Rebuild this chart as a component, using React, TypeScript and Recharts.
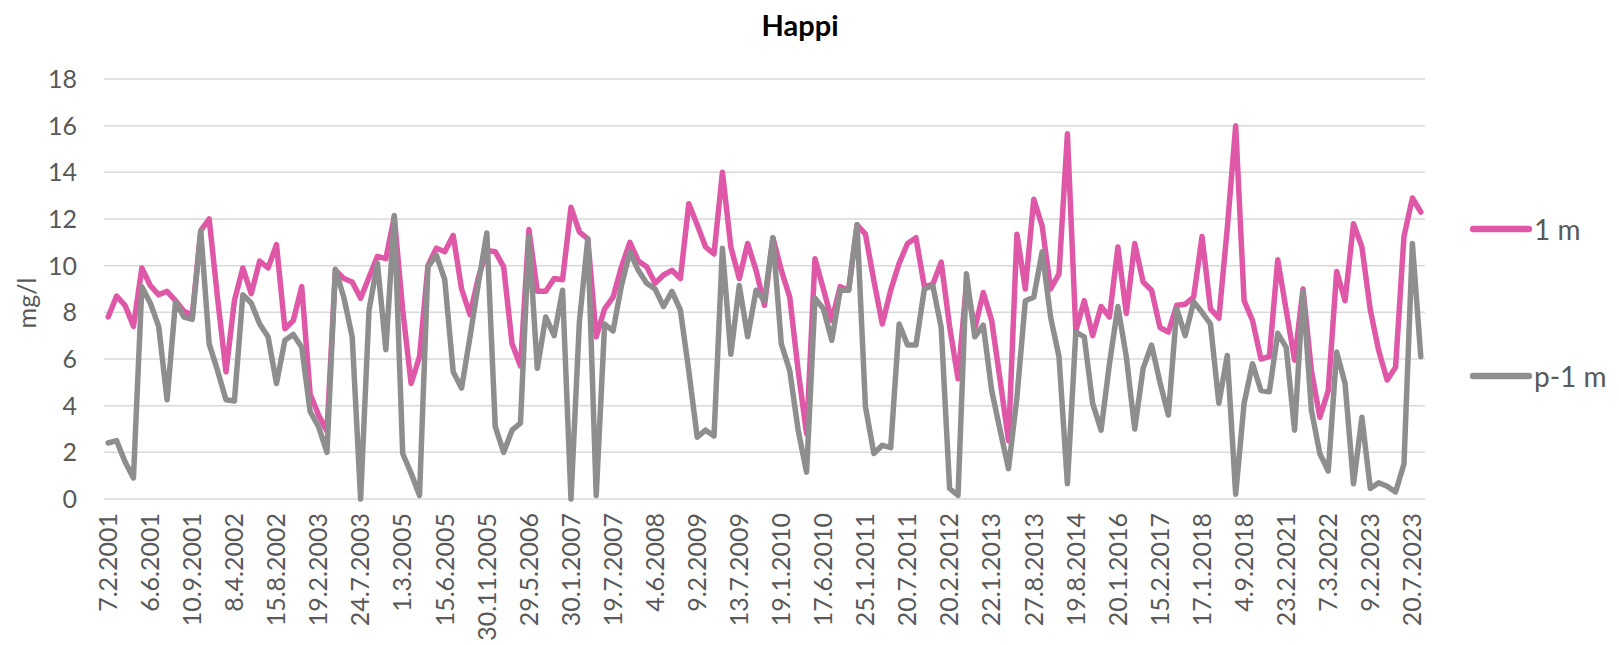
import React from 'react';
import { LineChart, Line, XAxis, YAxis, CartesianGrid, Legend } from 'recharts';

const tickLabels = [
  '7.2.2001', '6.6.2001', '10.9.2001', '8.4.2002', '15.8.2002', '19.2.2003', '24.7.2003', '1.3.2005',
  '15.6.2005', '30.11.2005', '29.5.2006', '30.1.2007', '19.7.2007', '4.6.2008', '9.2.2009', '13.7.2009',
  '19.1.2010', '17.6.2010', '25.1.2011', '20.7.2011', '20.2.2012', '22.1.2013', '27.8.2013', '19.8.2014',
  '20.1.2016', '15.2.2017', '17.1.2018', '4.9.2018', '23.2.2021', '7.3.2022', '9.2.2023', '20.7.2023',
];

const m1 = [
  7.8, 8.7, 8.3, 7.4, 9.9, 9.15, 8.75, 8.9, 8.5, 8.05,
  7.9, 11.5, 12.0, 8.6, 5.45, 8.5, 9.9, 8.8, 10.2, 9.9,
  10.9, 7.3, 7.65, 9.1, 4.5, 3.6, 2.9, 9.8, 9.45, 9.3,
  8.6, 9.5, 10.4, 10.3, 12.1, 8.1, 4.95, 6.1, 10.0, 10.75,
  10.6, 11.3, 9.0, 7.9, 9.5, 10.65, 10.6, 9.95, 6.65, 5.7,
  11.55, 8.9, 8.9, 9.45, 9.4, 12.5, 11.45, 11.15, 6.95, 8.15,
  8.65, 9.95, 11.0, 10.2, 9.95, 9.25, 9.6, 9.8, 9.45, 12.65,
  11.75, 10.8, 10.5, 14.0, 10.8, 9.45, 10.95, 9.8, 8.3, 11.2,
  9.8, 8.65, 5.5, 2.8, 10.3, 9.0, 7.65, 9.1, 8.95, 11.75,
  11.35, 9.35, 7.5, 8.95, 10.1, 10.95, 11.2, 9.1, 9.2, 10.15,
  7.4, 5.15, 9.25, 7.3, 8.85, 7.65, 5.1, 2.5, 11.35, 9.0,
  12.85, 11.7, 9.0, 9.65, 15.65, 7.2, 8.5, 7.0, 8.25, 7.8,
  10.8, 7.95, 10.95, 9.3, 8.95, 7.35, 7.15, 8.3, 8.35, 8.65,
  11.25, 8.15, 7.75, 11.6, 16.0, 8.5, 7.65, 6.0, 6.1, 10.25,
  8.1, 5.95, 9.0, 5.5, 3.5, 4.65, 9.75, 8.5, 11.8, 10.8,
  8.1, 6.35, 5.1, 5.65, 11.25, 12.9, 12.3,
];

const p1m = [
  2.4, 2.5, 1.6, 0.9, 9.1, 8.4, 7.4, 4.25, 8.45, 7.8,
  7.7, 11.5, 6.65, 5.5, 4.25, 4.2, 8.75, 8.4, 7.5, 6.95,
  4.95, 6.8, 7.05, 6.5, 3.75, 3.1, 2.0, 9.85, 8.65, 6.95,
  0.0, 8.1, 10.1, 6.4, 12.15, 1.95, 1.1, 0.15, 9.95, 10.45,
  9.4, 5.45, 4.75, 6.95, 9.25, 11.4, 3.1, 2.0, 2.95, 3.25,
  11.25, 5.6, 7.8, 7.0, 8.95, 0.0, 7.6, 11.15, 0.15, 7.5,
  7.2, 9.15, 10.6, 9.8, 9.25, 9.0, 8.25, 8.9, 8.1, 5.5,
  2.65, 2.95, 2.7, 10.75, 6.2, 9.15, 6.95, 8.95, 8.5, 11.2,
  6.65, 5.5, 2.95, 1.15, 8.6, 8.15, 6.8, 8.95, 8.95, 11.75,
  3.95, 1.95, 2.3, 2.2, 7.5, 6.6, 6.6, 9.0, 9.15, 7.35,
  0.45, 0.15, 9.65, 6.95, 7.45, 4.65, 2.95, 1.3, 4.35, 8.5,
  8.65, 10.6, 7.8, 6.1, 0.65, 7.15, 6.95, 4.1, 2.95, 5.8,
  8.25, 6.1, 3.0, 5.6, 6.6, 5.0, 3.6, 8.15, 7.0, 8.45,
  8.0, 7.5, 4.1, 6.15, 0.2, 4.1, 5.8, 4.65, 4.6, 7.1,
  6.5, 2.95, 8.9, 3.8, 1.95, 1.2, 6.3, 4.95, 0.65, 3.5,
  0.45, 0.7, 0.55, 0.3, 1.5, 10.95, 6.1,
];

const yTicks = [0, 2, 4, 6, 8, 10, 12, 14, 16, 18];
const seriesNames = ['1 m', 'p-1 m'];
const LABEL_EVERY = 5;

const data = m1.map((v, i) => ({ i, m1: v, p1m: p1m[i] }));

const W = 1619;
const H = 645;
const FONT = 'Lato, "Open Sans", sans-serif';
const PINK = '#DF58A8';
const GRAY = '#8E8E8E';
const TEXT = '#595959';
const GRID = '#D9D9D9';

const XTick = (props: any) => {
  const { x, y, payload } = props;
  const label = tickLabels[Math.round(payload.value / LABEL_EVERY)] ?? '';
  return (
    <text
      x={x}
      y={y}
      transform={`rotate(-90, ${x}, ${y})`}
      textAnchor="end"
      dy="0.35em"
      fill={TEXT}
      fontSize={25}
      fontFamily={FONT}
    >
      {label}
    </text>
  );
};

const YLabel = (props: any) => {
  const vb = props.viewBox || { x: 0, y: 79, width: 104, height: 420 };
  const cx = vb.x + 27;
  const cy = vb.y + vb.height / 2 + 14;
  return (
    <text
      x={cx}
      y={cy}
      transform={`rotate(-90, ${cx}, ${cy})`}
      textAnchor="middle"
      dy="0.35em"
      fill={TEXT}
      fontSize={25}
      fontFamily={FONT}
    >
      mg/l
    </text>
  );
};

const LegendContent = (props: any) => {
  const payload = props.payload || [];
  return (
    <div style={{ position: 'relative', width: 150, height: 190 }}>
      {payload.map((e: any, k: number) => (
        <div
          key={k}
          style={{
            position: 'absolute',
            left: 0,
            top: k * 147,
            height: 40,
            display: 'flex',
            alignItems: 'center',
            whiteSpace: 'nowrap',
          }}
        >
          <svg width={62} height={10} style={{ display: 'block' }}>
            <line x1={3} y1={5} x2={59} y2={5} stroke={e.color} strokeWidth={6.5} strokeLinecap="round" />
          </svg>
          <span style={{ fontFamily: FONT, fontSize: 28, color: TEXT, marginLeft: 2, lineHeight: '40px' }}>
            {e.value}
          </span>
        </div>
      ))}
    </div>
  );
};

export default function App() {
  return (
    <div style={{ position: 'absolute', left: 0, top: 0, width: W, height: H, background: '#fff' }}>
      <div
        style={{
          position: 'absolute',
          left: 0,
          top: 10,
          width: 1600,
          textAlign: 'center',
          fontFamily: FONT,
          fontWeight: 700,
          fontSize: 29,
          lineHeight: '29px',
          color: '#000',
        }}
      >
        Happi
      </div>
      <LineChart width={W} height={H} data={data} margin={{ top: 79, right: 194, bottom: 0, left: 0 }}>
        <CartesianGrid vertical={false} stroke={GRID} strokeWidth={1.5} />
        <XAxis
          dataKey="i"
          type="category"
          interval={LABEL_EVERY - 1}
          height={146}
          axisLine={false}
          tickLine={false}
          tickSize={0}
          tickMargin={14}
          padding={{ left: 4.2, right: 4.2 }}
          tick={<XTick />}
        />
        <YAxis
          domain={[0, 18]}
          ticks={yTicks}
          width={104}
          axisLine={false}
          tickLine={false}
          tickSize={0}
          tickMargin={27}
          tick={{ fill: TEXT, fontSize: 25, fontFamily: FONT }}
          label={YLabel}
        />
        <Legend
          layout="horizontal"
          verticalAlign="middle"
          align="center"
          wrapperStyle={{ left: 1470, top: 209, width: 150, height: 190 }}
          content={LegendContent}
        />
        <Line
          type="linear"
          dataKey="m1"
          name={seriesNames[0]}
          stroke={PINK}
          strokeWidth={5.5}
          strokeLinejoin="round"
          strokeLinecap="round"
          dot={false}
          activeDot={false}
          isAnimationActive={false}
        />
        <Line
          type="linear"
          dataKey="p1m"
          name={seriesNames[1]}
          stroke={GRAY}
          strokeWidth={5.5}
          strokeLinejoin="round"
          strokeLinecap="round"
          dot={false}
          activeDot={false}
          isAnimationActive={false}
        />
      </LineChart>
    </div>
  );
}
